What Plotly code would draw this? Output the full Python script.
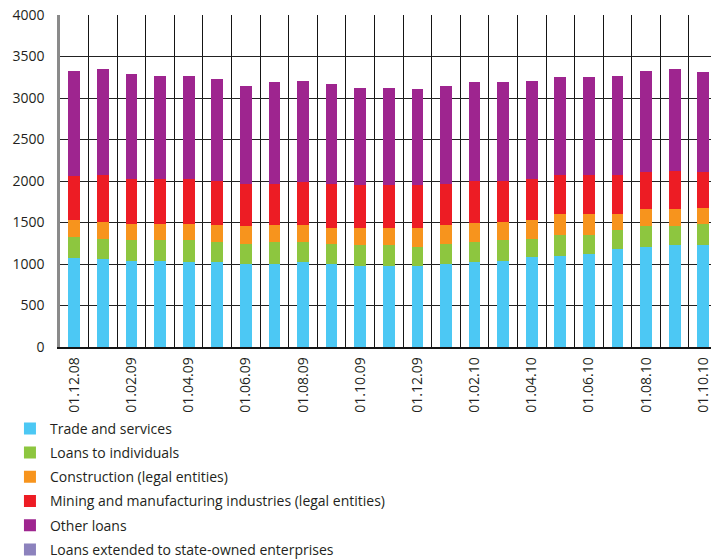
import plotly.graph_objects as go

# Reporting dates (first day of each month)
dates = ["01.12.08", "01.01.09", "01.02.09", "01.03.09", "01.04.09", "01.05.09",
         "01.06.09", "01.07.09", "01.08.09", "01.09.09", "01.10.09", "01.11.09",
         "01.12.09", "01.01.10", "01.02.10", "01.03.10", "01.04.10", "01.05.10",
         "01.06.10", "01.07.10", "01.08.10", "01.09.10", "01.10.10"]

trade_services = [1078, 1058, 1037, 1037, 1021, 1021, 1001, 1001, 1021, 1001, 981, 981,
                  981, 1001, 1021, 1042, 1082, 1102, 1126, 1182, 1206, 1223, 1223]
loans_individuals = [248, 244, 250, 250, 266, 250, 246, 270, 250, 246, 242, 242,
                     221, 246, 250, 245, 225, 245, 221, 229, 246, 229, 253]
construction = [210, 210, 201, 201, 201, 200, 205, 200, 200, 184, 208, 208,
                229, 224, 221, 225, 229, 250, 250, 186, 205, 205, 200]
mining_manufacturing = [526, 555, 531, 531, 531, 527, 510, 491, 511, 531, 515, 515,
                        515, 491, 510, 490, 486, 470, 470, 470, 446, 465, 427]
other_loans = [1266, 1285, 1273, 1249, 1249, 1230, 1182, 1226, 1226, 1206, 1177, 1177,
               1158, 1182, 1186, 1186, 1186, 1181, 1181, 1201, 1225, 1227, 1209]
state_owned = [0] * len(dates)

y_ticks = [0, 500, 1000, 1500, 2000, 2500, 3000, 3500, 4000]

series = [
    ("Trade and services", trade_services, "#4cc8f4"),
    ("Loans to individuals", loans_individuals, "#8dc63f"),
    ("Construction (legal entities)", construction, "#f7941d"),
    ("Mining and manufacturing industries (legal entities)", mining_manufacturing, "#ed1c24"),
    ("Other loans", other_loans, "#9e258f"),
    ("Loans extended to state-owned enterprises", state_owned, "#8c82bd"),
]

FONT = "Open Sans"
TEXT = "#231f20"

fig = go.Figure()
for i, (name, vals, color) in enumerate(series):
    fig.add_trace(go.Bar(
        x=dates, y=vals, name=name, legendgroup=f"g{i}",
        marker=dict(color=color, line=dict(width=0)),
        width=0.41,
    ))

tick_text = [d if i % 2 == 0 else "" for i, d in enumerate(dates)]

fig.update_layout(
    width=711, height=559,
    margin=dict(l=60, r=0, t=15, b=212, autoexpand=False),
    barmode="stack",
    plot_bgcolor="white", paper_bgcolor="white",
    font=dict(family=FONT, color=TEXT),
    showlegend=True,
    legend=dict(
        orientation="v", x=0.014, xref="container", xanchor="left",
        y=0.2615, yref="container", yanchor="top",
        traceorder="grouped", tracegroupgap=3,
        font=dict(size=14, color=TEXT), bgcolor="rgba(0,0,0,0)",
    ),
    xaxis=dict(
        type="category", range=[-0.5, 22.27], automargin=False,
        tickmode="array", tickvals=dates, ticktext=tick_text,
        tickson="boundaries", ticks="",
        tickangle=-90, tickfont=dict(size=14, color=TEXT),
        ticklabelstandoff=3,
        showgrid=True, gridcolor="#151515", gridwidth=1,
        showline=True, linecolor="#151515", linewidth=1.5,
        zeroline=False,
    ),
    yaxis=dict(
        range=[0, 4000], tickmode="array", tickvals=y_ticks, automargin=False,
        tickfont=dict(size=14, color=TEXT),
        showgrid=True, gridcolor="#222222", gridwidth=1,
        showline=True, linecolor="#8a8a8a", linewidth=2.5,
        zeroline=False, ticks="", ticklabelstandoff=10,
    ),
)

fig.write_html("out.html")
